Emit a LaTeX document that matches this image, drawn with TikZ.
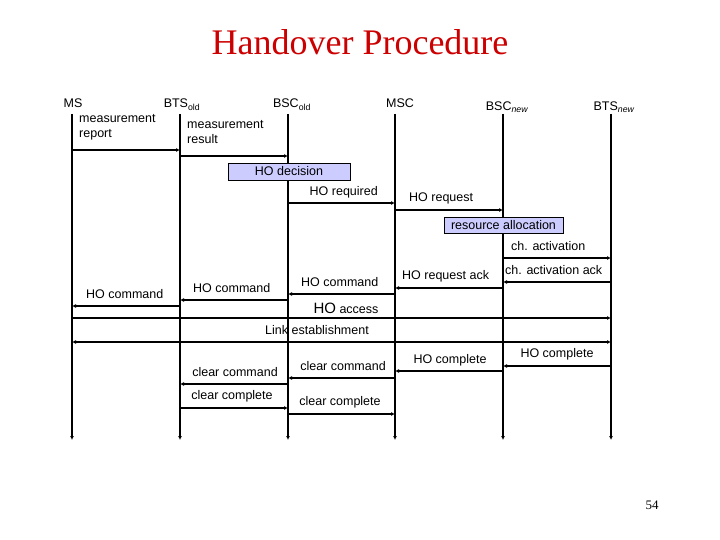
\documentclass[tikz,border=0pt]{standalone}
\usepackage{fontspec}
\setmainfont{Liberation Sans}
\newfontfamily\titlefont{Liberation Serif}
\usetikzlibrary{arrows.meta}
\begin{document}
\begin{tikzpicture}[x=1pt,y=-1pt,
 msg/.style={line width=1.3pt,-{Latex[length=4pt,width=4pt]}},
 life/.style={line width=1.3pt,-{Latex[length=4pt,width=4pt]}},
 lbl/.style={font=\fontsize{12.5}{14}\selectfont,inner sep=0pt},
 hdr/.style={font=\fontsize{12.5}{14}\selectfont,inner sep=0pt,anchor=base},
 box/.style={draw,fill={rgb,255:red,204;green,204;blue,255},line width=0.6pt,inner sep=1pt,font=\fontsize{12.5}{14}\selectfont}]
\useasboundingbox (0,0) rectangle (720,540);
\node[font=\titlefont\fontsize{36}{38}\selectfont,text={rgb,255:red,204;green,0;blue,0}] (title) at (360,42) {Handover Procedure};
\node[font=\titlefont\fontsize{13}{14}\selectfont] (pg) at (652,505) {54};
% lifelines
\foreach \n/\x in {ms/72,btso/180,bsco/288,msc/395,bscn/503,btsn/611}{
 \coordinate (\n t) at (\x,114); \coordinate (\n b) at (\x,440);
 \draw[life] (\n t) -- (\n b);}
\node[hdr] (hms) at (73,108) {MS};
\node[hdr] (hbtso) at (182,108) {BTS\textsubscript{old}};
\node[hdr] (hbsco) at (292,108) {BSC\textsubscript{old}};
\node[hdr] (hmsc) at (400,108) {MSC};
\node[hdr] (hbscn) at (507,111) {BSC\textsubscript{\itshape new}};
\node[hdr] (hbtsn) at (614,111) {BTS\textsubscript{\itshape new}};
\newcommand\mymsg[3]{\coordinate (a#3) at (#1); \coordinate (b#3) at (#2); \draw[msg] (a#3) -- (b#3);}
\mymsg{72,150}{180,150}{1}
\node[lbl,align=left,anchor=north west] (l1) at (79,114) {measurement\\[1pt]report};
\mymsg{180,156}{288,156}{2}
\node[lbl,align=left,anchor=north west] (l2) at (187,120) {measurement\\[1pt]result};
\node[box,minimum width=122pt,minimum height=17pt] (dec) at (289,171.5) {HO decision};
\mymsg{288,203}{395,203}{3}
\node[lbl,anchor=east] (l3) at (378,192) {HO required};
\mymsg{395,210}{503,210}{4}
\node[lbl,anchor=west] (l4) at (409,198) {HO request};
\node[box,minimum width=119pt,minimum height=16pt] (res) at (503.5,225) {resource allocation};
\mymsg{503,258}{611,258}{5}
\node[lbl,anchor=west] (l5) at (511,246) {ch. activation};
\mymsg{611,282}{503,282}{6}
\node[lbl,anchor=west] (l6) at (505,270) {ch. activation ack};
\mymsg{503,288}{395,288}{7}
\node[lbl,anchor=west] (l7) at (402,276) {HO request ack};
\mymsg{395,294}{288,294}{8}
\node[lbl,anchor=west] (l8) at (301,282) {HO command};
\mymsg{288,300}{180,300}{9}
\node[lbl,anchor=west] (l9) at (193,288) {HO command};
\mymsg{180,306}{72,306}{10}
\node[lbl,anchor=west] (l10) at (86,294) {HO command};
\mymsg{72,318}{611,318}{11}
\node[lbl] (l11) at (346,308) {{\fontsize{15}{16}\selectfont HO} access};
\coordinate (a12) at (72,342); \coordinate (b12) at (611,342);
\draw[line width=1.3pt,{Latex[length=4pt,width=4pt]}-{Latex[length=4pt,width=4pt]}] (a12) -- (b12);
\node[lbl] (l12) at (317,330) {Link establishment};
\mymsg{611,366}{503,366}{13}
\node[lbl] (l13) at (557,354) {HO complete};
\mymsg{503,371}{395,371}{14}
\node[lbl] (l14) at (450,360) {HO complete};
\mymsg{395,378}{288,378}{15}
\node[lbl] (l15) at (343,366) {clear command};
\mymsg{288,384}{180,384}{16}
\node[lbl] (l16) at (235,372) {clear command};
\mymsg{180,408}{288,408}{17}
\node[lbl] (l17) at (232,396) {clear complete};
\mymsg{288,414}{395,414}{18}
\node[lbl] (l18) at (340,402) {clear complete};
\end{tikzpicture}
\end{document}
